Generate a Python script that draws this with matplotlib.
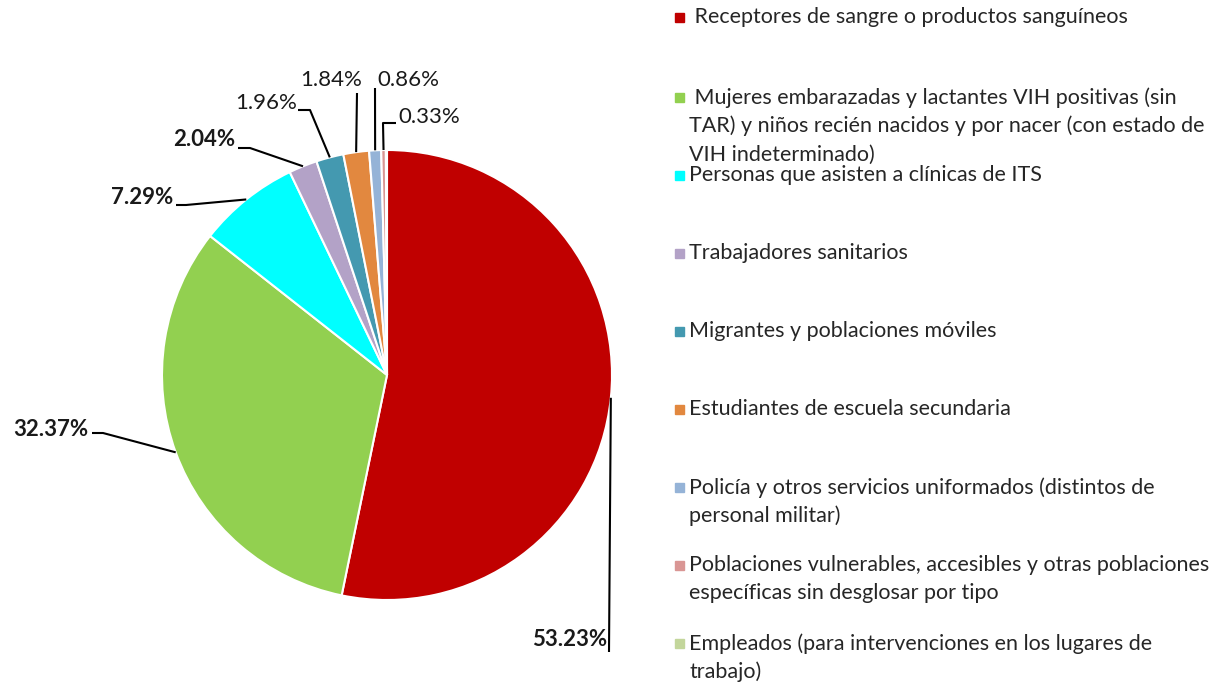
import numpy as np
import matplotlib
matplotlib.use("Agg")
import matplotlib.pyplot as plt

plt.rcParams['font.family'] = ['Lato', 'DejaVu Sans']

# data
categories = [
    " Receptores de sangre o productos sanguíneos",
    " Mujeres embarazadas y lactantes VIH positivas (sin\nTAR) y niños recién nacidos y por nacer (con estado de\nVIH indeterminado)",
    "Personas que asisten a clínicas de ITS",
    "Trabajadores sanitarios",
    "Migrantes y poblaciones móviles",
    "Estudiantes de escuela secundaria",
    "Policía y otros servicios uniformados (distintos de\npersonal militar)",
    "Poblaciones vulnerables, accesibles y otras poblaciones\nespecíficas sin desglosar por tipo",
    "Empleados (para intervenciones en los lugares de\ntrabajo)",
]
values = [53.23, 32.37, 7.29, 2.04, 1.96, 1.84, 0.86, 0.33, 0.08]
pct_labels = ["53.23%", "32.37%", "7.29%", "2.04%", "1.96%", "1.84%", "0.86%", "0.33%", None]
bold = [True, True, True, True, False, False, False, False, False]

colors = ['#C00000', '#92D050', '#00FFFF', '#B3A2C7', '#4499B0',
          '#E2883F', '#95B3D7', '#D99694', '#C3D69B']

W, H = 1230, 688
fig = plt.figure(figsize=(W / 100, H / 100), dpi=100)
ax = fig.add_axes([0, 0, 1, 1])

cx, cy, r = 387, H - 375, 225
wedges, _ = ax.pie(values, colors=colors, startangle=90, counterclock=False,
                   center=(cx, cy), radius=r,
                   wedgeprops=dict(edgecolor='white', linewidth=1.5))
ax.set_xlim(0, W)
ax.set_ylim(0, H)
ax.set_aspect('equal')
ax.axis('off')

# label layout in pixel coords (from top): text pos, alignment, elbow points
layout = [
    dict(xy=(607, 640), ha='right', pts=[(609, 652)]),
    dict(xy=(88, 430), ha='right', pts=[(92, 433), (103, 433)]),
    dict(xy=(173, 197), ha='right', pts=[(176, 205), (186, 205)]),
    dict(xy=(235, 140), ha='right', pts=[(238, 148), (250, 148)]),
    dict(xy=(297, 103), ha='right', pts=[(298, 110), (310, 110)]),
    dict(xy=(331, 80), ha='center', pts=[(357, 93)]),
    dict(xy=(377, 80), ha='left', pts=[(375, 88)]),
    dict(xy=(398, 117), ha='left', pts=[(396, 123), (383, 123)]),
]

for i, lay in enumerate(layout):
    w = wedges[i]
    mid = np.deg2rad((w.theta1 + w.theta2) / 2)
    ex, ey = cx + r * np.cos(mid), cy + r * np.sin(mid)
    xs = [p[0] for p in lay['pts']] + [ex]
    ys = [H - p[1] for p in lay['pts']] + [ey]
    ax.plot(xs, ys, color='black', lw=1.5, solid_capstyle='butt', clip_on=False)
    ax.text(lay['xy'][0], H - lay['xy'][1], pct_labels[i], ha=lay['ha'], va='center',
            fontsize=16, fontweight='bold' if bold[i] else 'normal', color='#1a1a1a')

# legend
leg_y = [17, 97, 175, 253, 331, 409, 487, 565, 643]
for i, cat in enumerate(categories):
    y = H - leg_y[i]
    ax.add_patch(plt.Rectangle((675, y - 4.5), 9, 9, color=colors[i], clip_on=False))
    ax.text(689, y + 10, cat, ha='left', va='top', fontsize=15.5,
            linespacing=1.5, color='#262626')

fig.savefig("out.png", dpi=100)
